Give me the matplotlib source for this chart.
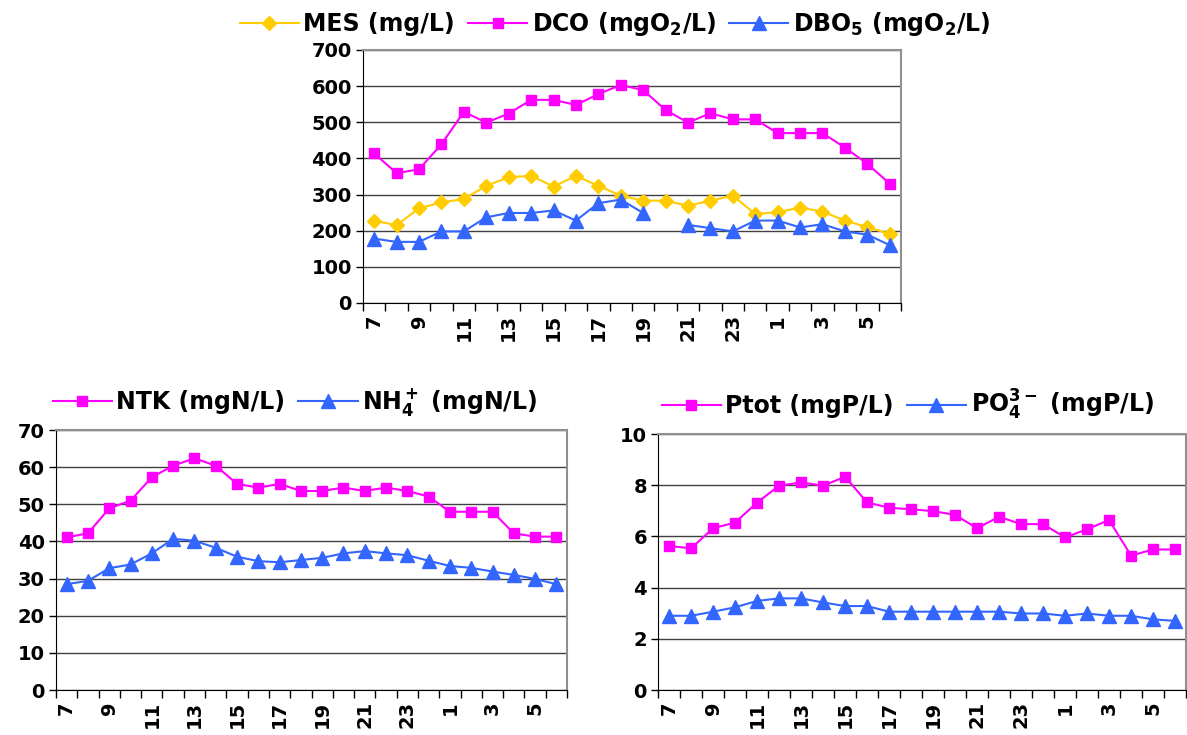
import numpy as np
import matplotlib
matplotlib.use("Agg")
import matplotlib.pyplot as plt

plt.rcParams['font.family'] = ['DejaVu Sans']
plt.rcParams['font.weight'] = 'bold'
plt.rcParams['mathtext.fontset'] = 'dejavusans'
plt.rcParams['mathtext.default'] = 'bf'

# hours of sampling (7h -> 6h next day)
hours = [str(h) for h in list(range(7, 24)) + list(range(0, 7))]

mes = [228, 215, 262, 278, 288, 324, 348, 352, 322, 352, 324, 297,
       283, 283, 269, 283, 297, 246, 251, 264, 253, 228, 210, 191]
dco = [414, 359, 370, 439, 529, 499, 524, 562, 562, 548, 578, 603,
       589, 534, 499, 525, 508, 508, 470, 470, 470, 430, 385, 330]
dbo5 = [178, 169, 169, 198, 198, 237, 249, 249, 256, 228, 276, 286,
        249, np.nan, 216, 207, 198, 228, 228, 209, 218, 198, 189, 160]

ntk = [41.1, 42.2, 48.9, 51.0, 57.3, 60.4, 62.4, 60.4, 55.5, 54.5, 55.5, 53.6,
       53.6, 54.5, 53.6, 54.5, 53.6, 52.1, 48.0, 48.0, 48.0, 42.2, 41.3, 41.3]
nh4 = [28.5, 29.4, 32.8, 33.8, 36.8, 40.7, 40.2, 38.3, 35.9, 34.7, 34.4, 35.0,
       35.6, 36.8, 37.4, 36.8, 36.3, 34.8, 33.4, 32.9, 31.9, 31.0, 29.9, 28.5]

ptot = [5.63, 5.53, 6.32, 6.54, 7.32, 7.98, 8.11, 7.98, 8.33, 7.33, 7.12, 7.06,
        6.99, 6.84, 6.32, 6.77, 6.48, 6.48, 5.96, 6.28, 6.64, 5.25, 5.49, 5.49]
po4 = [2.90, 2.90, 3.06, 3.23, 3.48, 3.58, 3.58, 3.42, 3.28, 3.28, 3.06, 3.06,
       3.06, 3.06, 3.06, 3.06, 2.99, 2.99, 2.90, 2.99, 2.90, 2.90, 2.76, 2.70]

YELLOW = '#FFCC00'
MAGENTA = '#FF00FF'
BLUE = '#3366FF'

fig = plt.figure(figsize=(11.87, 7.35), dpi=100)

LEG = dict(frameon=False, prop={'weight': 'bold', 'size': 17}, handlelength=2.5,
           columnspacing=0.55, handletextpad=0.2, borderaxespad=0.1)


def style_axes(ax, ymax, ystep):
    x = np.arange(len(hours))
    ax.set_xlim(-0.5, len(hours) - 0.5)
    ax.set_ylim(0, ymax)
    ax.set_yticks(np.arange(0, ymax + ystep / 2, ystep))
    ax.set_xticks(x)
    ax.set_xticklabels([h if i % 2 == 0 else '' for i, h in enumerate(hours)],
                       rotation=90, fontsize=14, fontweight='bold')
    ax.tick_params(axis='x', which='major', length=0, pad=8)
    ax.set_xticks(np.arange(-0.5, len(hours)), minor=True)
    ax.tick_params(axis='x', which='minor', length=6, width=1, color='black')
    ax.tick_params(axis='y', length=5, width=1, labelsize=14, pad=3)
    for lab in ax.get_yticklabels():
        lab.set_fontweight('bold')
    ax.grid(axis='y', color='#404040', lw=1)
    ax.set_axisbelow(True)
    ax.spines['left'].set_color('black')
    ax.spines['bottom'].set_color('black')
    ax.spines['top'].set_color('#909090')
    ax.spines['right'].set_color('#909090')
    ax.spines['top'].set_linewidth(1.5)
    ax.spines['right'].set_linewidth(1.5)


x = np.arange(len(hours))

# top chart
ax1 = fig.add_axes([0.3058, 0.5878, 0.4532, 0.3442])
ax1.plot(x, mes, color=YELLOW, marker='D', ms=7.5, lw=1.5, label='MES (mg/L)')
ax1.plot(x, dco, color=MAGENTA, marker='s', ms=7.5, lw=1.5, label='DCO (mgO$_2$/L)')
ax1.plot(x, dbo5, color=BLUE, marker='^', ms=10, lw=1.5, label='DBO$_5$ (mgO$_2$/L)')
style_axes(ax1, 700, 100)
ax1.legend(loc='lower center', bbox_to_anchor=(0.469, 1.0), ncol=3, **LEG)

# bottom left
ax2 = fig.add_axes([0.0472, 0.0612, 0.4305, 0.3537])
ax2.plot(x, ntk, color=MAGENTA, marker='s', ms=7.5, lw=1.5, label='NTK (mgN/L)')
ax2.plot(x, nh4, color=BLUE, marker='^', ms=10, lw=1.5, label='NH$_4^+$ (mgN/L)')
style_axes(ax2, 70, 10)
ax2.legend(loc='lower center', bbox_to_anchor=(0.468, 1.0), ncol=2, **LEG)

# bottom right
ax3 = fig.add_axes([0.5544, 0.0612, 0.4448, 0.3483])
ax3.plot(x, ptot, color=MAGENTA, marker='s', ms=7.5, lw=1.5, label='Ptot (mgP/L)')
ax3.plot(x, po4, color=BLUE, marker='^', ms=10, lw=1.5, label='PO$_4^{3-}$ (mgP/L)')
style_axes(ax3, 10, 2)
ax3.legend(loc='lower center', bbox_to_anchor=(0.4725, 1.0), ncol=2, **LEG)

fig.savefig('out.png', dpi=100)
